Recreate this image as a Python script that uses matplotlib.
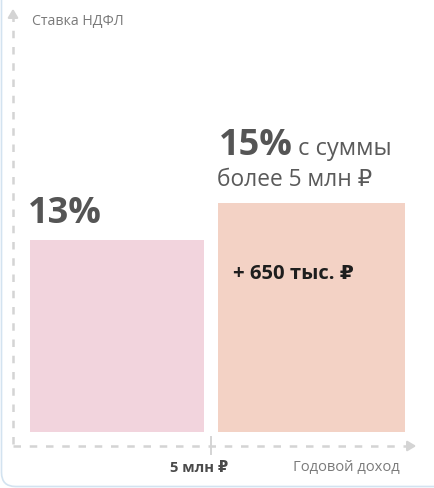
#!/usr/bin/env python3
"""NDFL progressive rate chart: 13% up to 5 mln, 15% above."""
import matplotlib
matplotlib.use("Agg")
import matplotlib.pyplot as plt
from matplotlib.patches import FancyBboxPatch

plt.rcParams["font.family"] = ["Open Sans", "DejaVu Sans"]

# --- data -----------------------------------------------------------------
rates = [13, 15]                      # % НДФЛ
bar_colors = ["#f2d4dd", "#f3d2c5"]
rate_labels = ["13%", "15%"]
threshold_label = "5 млн ₽"
extra_tax_label = "+ 650 тыс. ₽"
y_title = "Ставка НДФЛ"
x_title = "Годовой доход"

W, H = 435, 488
fig = plt.figure(figsize=(W / 100, H / 100), dpi=100)

# bar axes: bottom edge at pixel 432, rate scale chosen so 15% top sits at px 203
PX_BASE, PX_TOP15 = 432, 203
scale = (PX_BASE - PX_TOP15) / 12.38          # px per percentage point
y_lo = 15 - 12.38
bx = fig.add_axes([0, (H - PX_BASE) / H, 1, PX_BASE / H], zorder=1)
bx.set_xlim(0, W)
bx.set_ylim(y_lo, y_lo + PX_BASE / scale)
bx.axis("off")

lefts = [30, 218]
widths = [174, 187]
bx.bar(lefts, rates, width=widths, align="edge", color=bar_colors)

# overlay axes in pixel coordinates for decorations, above the bars
ov = fig.add_axes([0, 0, 1, 1], zorder=2)
ov.set_xlim(0, W); ov.set_ylim(H, 0); ov.axis("off")
ov.patch.set_alpha(0)

# card border (rounded corner lower-left)
ov.add_patch(FancyBboxPatch((1.5, -40), W + 40, H - 1.5 + 40,
                            boxstyle="round,pad=0,rounding_size=14",
                            fc="none", ec="#d3e3f0", lw=1.2, clip_on=False))

# dashed axes with arrows
ax_col = "#d4d4d4"
ov.plot([13, 13], [444, 16], ls=(0, (3, 3.5)), color=ax_col, lw=1.8)
ov.plot([13, 408], [446, 446], ls=(0, (3, 3.5)), color=ax_col, lw=1.8)
ov.annotate("", xy=(13, 6), xytext=(13, 18),
            arrowprops=dict(arrowstyle="-|>,head_length=0.5,head_width=0.3",
                            color=ax_col, lw=1.6))
ov.annotate("", xy=(419, 446), xytext=(407, 446),
            arrowprops=dict(arrowstyle="-|>,head_length=0.5,head_width=0.3",
                            color=ax_col, lw=1.6))
ov.plot([211, 211], [437, 454], color=ax_col, lw=1.4)

# texts
ov.text(32, 21, y_title, fontsize=10.2, color="#7a7a7a", va="center")
ov.text(293, 468, x_title, fontsize=10.6, color="#7a7a7a", va="center")
ov.text(170, 468, threshold_label, fontsize=10.6, color="#4a4a4a",
        fontweight="bold", va="center")

ov.text(28, 223, rate_labels[0], fontsize=26,
        fontweight="bold", color="#555555", va="baseline", ha="left")
ov.text(219, 155, rate_labels[1], fontsize=26,
        fontweight="bold", color="#555555", va="baseline", ha="left")
ov.text(298, 155, "с суммы", fontsize=17, color="#5a5a5a", va="baseline")
ov.text(217, 186, "более 5 млн ₽", fontsize=16.4, color="#5a5a5a", va="baseline")
ov.text(233, 274, extra_tax_label, fontsize=14.6, fontweight="bold",
        color="#1e1e1e", va="center")

fig.savefig("out.png", dpi=100)
